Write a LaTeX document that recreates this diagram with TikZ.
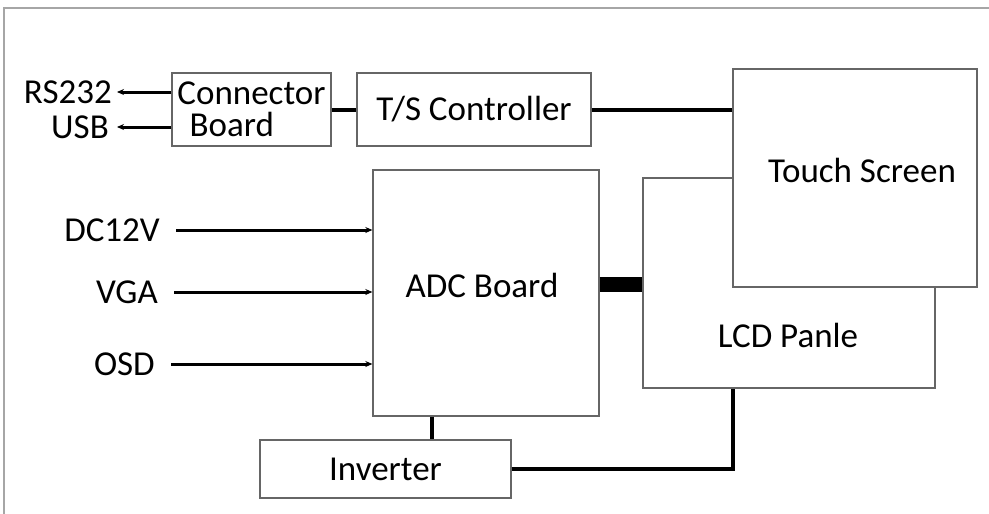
\documentclass[tikz,border=0pt]{standalone}
\usepackage{fontspec}
\setmainfont{Carlito}
\usepackage{tikz}
\usetikzlibrary{arrows.meta,positioning}
\tikzset{
  >={Stealth[length=7pt,width=6pt]},
  block/.style={rectangle,draw=black!60,line width=1.3pt,fill=white,inner sep=0pt},
  lbl/.style={inner sep=0pt,font=\fontsize{35}{31}\selectfont},
  wire/.style={line width=4pt,draw=black},
  arr/.style={->,line width=3pt,draw=black},
  frame/.style={draw=black!35,line width=2pt}
}

\begin{document}
\begin{tikzpicture}[x=1pt,y=-1pt,font=\fontsize{35}{31}\selectfont]
  \useasboundingbox (0,0) rectangle (989,514);
  % Outer frame
  \draw[frame] (4,514) -- (4,8) -- (989,8);

  % Blocks
  \node[block,minimum width=159pt,minimum height=73pt,align=left,font=\fontsize{35}{32}\selectfont] (conn) at (251.5,109.5) {Connector\\\hspace{0.35em}Board};
  \node[block,minimum width=234pt,minimum height=73pt] (tsc) at (474,109.5) {T/S Controller};
  \node[block,minimum width=292pt,minimum height=210pt] (lcd) at (789,283) {};
  \node[lbl] (lcdtxt) at (788,335) {LCD Panle};
  \node[block,minimum width=244pt,minimum height=218pt] (touch) at (855,178) {};
  \node[lbl] (touchtxt) at (862,170) {Touch Screen};
  \node[block,minimum width=226pt,minimum height=246pt] (adc) at (486,293) {};
  \node[lbl] (adctxt) at (482,285) {ADC Board};
  \node[block,minimum width=251pt,minimum height=58pt] (inv) at (385.5,469) {Inverter};

  % Outside signals
  \node[lbl,anchor=east] (rs232) at (112,92) {RS232};
  \node[lbl,anchor=east] (usb) at (109,127) {USB};
  \node[lbl,anchor=east] (dc) at (160,230) {DC12V};
  \node[lbl,anchor=east] (vga) at (158,292) {VGA};
  \node[lbl,anchor=east] (osd) at (155,364) {OSD};

  % Connections
  \draw[arr] (conn.west |- rs232.east) -- ([xshift=5pt]rs232.east);
  \draw[arr] (conn.west |- usb.east) -- ([xshift=8pt]usb.east);
  \draw[wire] (conn.east) -- (tsc.west);
  \draw[wire] (tsc.east) -- (tsc.east -| touch.west);
  \foreach \sig in {dc,vga,osd}
    \draw[arr] ([xshift=16pt]\sig.east) -- (\sig.east -| adc.west);

  \coordinate (bandy) at (0,284.5);
  \coordinate (invx) at (432,0);
  \coordinate (lcdx) at (733,0);
  \draw[line width=15pt] (adc.east |- bandy) -- (lcd.west |- bandy);
  \draw[wire] (adc.south -| invx) -- (inv.north -| invx);
  \draw[wire] (inv.east) -| (lcdx |- lcd.south);
\end{tikzpicture}
\end{document}
